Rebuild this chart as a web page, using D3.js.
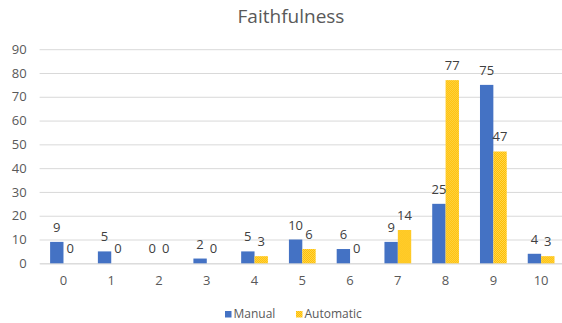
<!DOCTYPE html>
<html>
<head>
<meta charset="utf-8">
<script src="https://cdn.jsdelivr.net/npm/d3@7"></script>
<style>
  html, body { margin: 0; padding: 0; background: #ffffff; }
  svg { display: block; font-family: "Open Sans", "Liberation Sans", sans-serif; }
</style>
</head>
<body>
<svg id="chart" width="562" height="323"></svg>
<script>
// Score categories on the x axis
const categories = ["0", "1", "2", "3", "4", "5", "6", "7", "8", "9", "10"];
// Series
const seriesNames = ["Manual", "Automatic"];
const manualValues = [9, 5, 0, 2, 5, 10, 6, 9, 25, 75, 4];
const automaticValues = [0, 0, 0, 0, 3, 6, 0, 14, 77, 47, 3];
// Value axis ticks
const yTicks = [0, 10, 20, 30, 40, 50, 60, 70, 80, 90];
const chartTitle = "Faithfulness";

const colors = { Manual: "#4472C4", Automatic: "#FFC000" };

const svg = d3.select("#chart");
const plot = { left: 39.6, right: 565, top: 49.2, bottom: 263.3 };

// Dotted fill for the Automatic series
const defs = svg.append("defs");
const pat = defs.append("pattern")
  .attr("id", "autoFill")
  .attr("width", 2).attr("height", 2)
  .attr("patternUnits", "userSpaceOnUse");
pat.append("rect").attr("width", 2).attr("height", 2).attr("fill", "#FFC000");
pat.append("rect").attr("width", 1).attr("height", 1).attr("fill", "#FFD44D");
pat.append("rect").attr("x", 1).attr("y", 1).attr("width", 1).attr("height", 1).attr("fill", "#FFD44D");

const fills = { Manual: colors.Manual, Automatic: "url(#autoFill)" };

const x = d3.scaleBand()
  .domain(categories)
  .range([plot.left, plot.right])
  .paddingInner(0.44)
  .paddingOuter(0.22);

const xInner = d3.scaleBand()
  .domain(seriesNames)
  .range([0, x.bandwidth()]);

const y = d3.scaleLinear()
  .domain([0, 90])
  .range([plot.bottom, plot.top]);

// Title
svg.append("text")
  .attr("x", 291)
  .attr("y", 23)
  .attr("text-anchor", "middle")
  .attr("font-size", 19)
  .attr("fill", "#595959")
  .text(chartTitle);

// Gridlines and value labels
const yAxis = d3.axisLeft(y)
  .tickValues(yTicks)
  .tickSize(-(plot.right - plot.left))
  .tickPadding(13);

const gy = svg.append("g")
  .attr("transform", `translate(${plot.left},0)`)
  .call(yAxis);
gy.select(".domain").remove();
gy.selectAll(".tick line").attr("stroke", "#d9d9d9").attr("stroke-width", 1);
gy.selectAll(".tick text")
  .attr("fill", "#595959")
  .attr("font-size", 13)
  .attr("font-family", "\"Open Sans\", sans-serif");

// Category axis
const xAxis = d3.axisBottom(x).tickSize(0).tickPadding(12);
const gx = svg.append("g")
  .attr("transform", `translate(0,${plot.bottom})`)
  .call(xAxis);
gx.select(".domain").attr("stroke", "#d9d9d9");
gx.selectAll(".tick text")
  .attr("fill", "#595959")
  .attr("font-size", 13)
  .attr("font-family", "\"Open Sans\", sans-serif");

// Bars
const rows = categories.map((c, i) => ({
  cat: c,
  values: [
    { series: "Manual", value: manualValues[i] },
    { series: "Automatic", value: automaticValues[i] }
  ]
}));

const groups = svg.append("g")
  .selectAll("g")
  .data(rows)
  .join("g")
  .attr("transform", d => `translate(${x(d.cat)},0)`);

groups.selectAll("rect")
  .data(d => d.values)
  .join("rect")
  .attr("x", d => xInner(d.series))
  .attr("y", d => y(d.value))
  .attr("width", xInner.bandwidth())
  .attr("height", d => y(0) - y(d.value))
  .attr("fill", d => fills[d.series]);

groups.selectAll("text")
  .data(d => d.values)
  .join("text")
  .attr("x", d => xInner(d.series) + xInner.bandwidth() / 2)
  .attr("y", d => y(d.value) - 10)
  .attr("text-anchor", "middle")
  .attr("font-size", 13)
  .attr("fill", "#404040")
  .text(d => d.value);

// Legend
const legend = svg.append("g").attr("transform", "translate(0,318)");
const items = [
  { name: "Manual", x: 225 },
  { name: "Automatic", x: 296 }
];
items.forEach(it => {
  legend.append("rect")
    .attr("x", it.x).attr("y", -7)
    .attr("width", 6.5).attr("height", 6.5)
    .attr("fill", fills[it.name]);
  legend.append("text")
    .attr("x", it.x + 8.5).attr("y", 0)
    .attr("font-size", 12)
    .attr("fill", "#595959")
    .text(it.name);
});
</script>
</body>
</html>
